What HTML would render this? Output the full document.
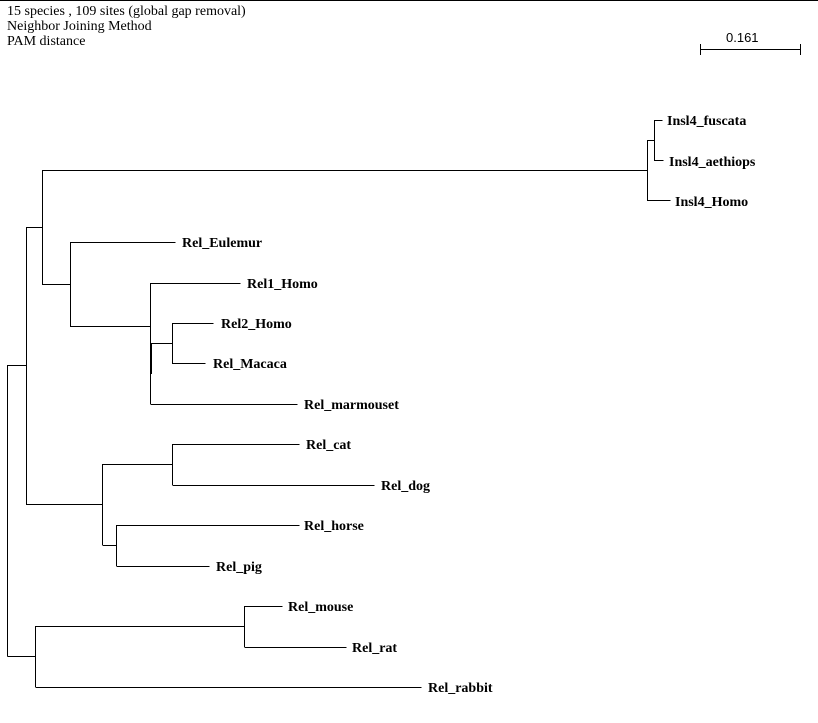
<!DOCTYPE html>
<html><head><style>
html,body{margin:0;padding:0;background:#fff;}
svg{display:block;}
.h{font-family:"Liberation Serif",serif;font-size:14px;fill:#000;}
.l{font-family:"Liberation Serif",serif;font-size:14px;font-weight:bold;fill:#000;}
</style></head><body>
<svg width="818" height="723" xmlns="http://www.w3.org/2000/svg">
<rect width="818" height="723" fill="#fff"/>
<line x1="0" y1="0.5" x2="818" y2="0.5" stroke="#000"/>
<text class="h" x="7" y="15">15 species , 109 sites (global gap removal)</text>
<text class="h" x="7" y="30">Neighbor Joining Method</text>
<text class="h" x="7" y="45">PAM distance</text>
<g stroke="#000" stroke-width="1" fill="none" shape-rendering="crispEdges">
<path d="M700.5 49.5H800.5M700.5 44V55M800.5 44V55"/>
<path d="M7.5 365V656.5M7.5 365.5H26.5M7.5 656.5H35.5"/>
<path d="M26.5 227V505M26.5 227.5H42.5M26.5 504.5H102.5"/>
<path d="M42.5 170V285M42.5 170.5H647.5M42.5 284.5H70.5"/>
<path d="M647.5 140V201M647.5 140.5H654.5M647.5 200.5H670.5M654.5 120V161M654.5 120.5H662.5M654.5 160.5H663.5"/>
<path d="M70.5 242V327M70.5 242.5H175.5M70.5 326.5H150.5"/>
<path d="M150.5 283V404M150.5 283.5H240.5M150.5 404.5H297.5M150.5 343.5H172.5M151.5 343V374"/>
<path d="M172.5 323V364M172.5 323.5H213.5M172.5 363.5H205.5"/>
<path d="M102.5 464V545M102.5 464.5H172.5M102.5 545.5H116.5"/>
<path d="M172.5 444V485M172.5 444.5H299.5M172.5 485.5H374.5"/>
<path d="M116.5 525V566M116.5 525.5H299.5M116.5 566.5H209.5"/>
<path d="M35.5 626V687M35.5 626.5H244.5M35.5 687.5H421.5"/>
<path d="M244.5 606V647M244.5 606.5H282.5M244.5 647.5H346.5"/>
</g>
<text x="726" y="42" font-family="Liberation Sans,sans-serif" font-size="13">0.161</text>
<g class="l">
<text class="l" x="667" y="125">Insl4_fuscata</text>
<text class="l" x="669" y="166">Insl4_aethiops</text>
<text class="l" x="675" y="206">Insl4_Homo</text>
<text class="l" x="182" y="247">Rel_Eulemur</text>
<text class="l" x="247" y="288">Rel1_Homo</text>
<text class="l" x="221" y="328">Rel2_Homo</text>
<text class="l" x="213" y="368">Rel_Macaca</text>
<text class="l" x="304" y="409">Rel_marmouset</text>
<text class="l" x="306" y="449">Rel_cat</text>
<text class="l" x="381" y="490">Rel_dog</text>
<text class="l" x="304" y="530">Rel_horse</text>
<text class="l" x="216" y="571">Rel_pig</text>
<text class="l" x="288" y="611">Rel_mouse</text>
<text class="l" x="352" y="652">Rel_rat</text>
<text class="l" x="428" y="692">Rel_rabbit</text>
</g>
</svg>
</body></html>
